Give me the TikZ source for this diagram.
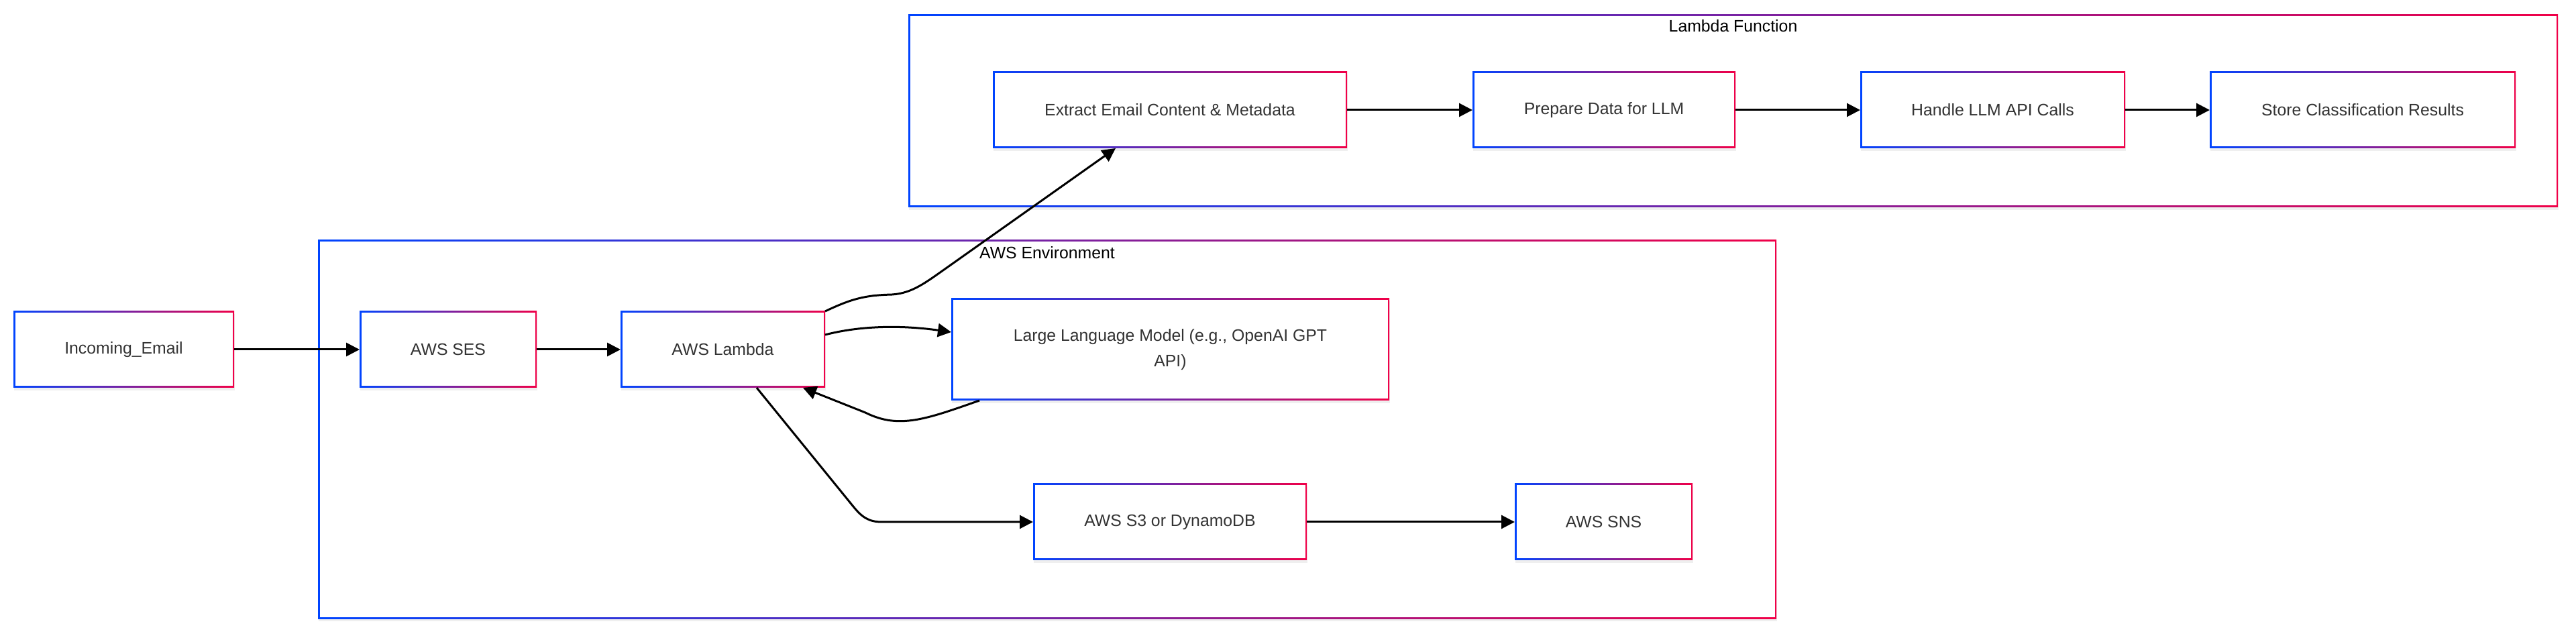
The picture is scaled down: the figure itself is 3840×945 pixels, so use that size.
\documentclass[tikz,border=0pt]{standalone}
\usepackage{fontspec}
\setmainfont{Liberation Sans}
\usetikzlibrary{arrows.meta,shadows}
\definecolor{gblue}{RGB}{0,68,255}
\definecolor{gred}{RGB}{240,0,72}
\definecolor{txt}{RGB}{51,51,51}
\tikzset{
  gbox/.style={rectangle, inner sep=0pt, outer sep=0pt, left color=gblue, right color=gred,
    drop shadow={shadow xshift=0.5pt, shadow yshift=-2pt, opacity=0.12},
    path picture={\fill[white] ([shift={(1.25pt,1.25pt)}]path picture bounding box.south west) rectangle ([shift={(-1.25pt,-1.25pt)}]path picture bounding box.north east);}},
  proc/.style={gbox, text=txt, font=\fontsize{12.4pt}{19pt}\selectfont, align=center},
  clab/.style={font=\fontsize{12.4pt}{19pt}\selectfont, text=black, inner sep=0pt},
  conn/.style={line width=1.5pt, -{Triangle[length=10pt,width=10pt]}},
}
\begin{document}
\begin{tikzpicture}[x=0.5pt,y=-0.5pt]
\fill[white] (0,0) rectangle (3840,945);
\useasboundingbox (0,0) rectangle (3840,945);
% clusters
\node[gbox, minimum width=1229.5pt, minimum height=143.5pt] (lf) at (2583.5,165.5) {};
\node[clab] (lflab) at (2583.5,39) {Lambda Function};
\node[gbox, minimum width=1087pt, minimum height=282pt] (env) at (1561,640) {};
\node[clab] (envlab) at (1561,377) {AWS Environment};
% nodes
\node[proc, minimum width=164.5pt, minimum height=57pt] (inc) at (184.5,521) {Incoming\_Email};
\node[proc, minimum width=132pt, minimum height=57pt] (ses) at (668,521) {AWS SES};
\node[proc, minimum width=152.5pt, minimum height=57pt] (lam) at (1077.5,521) {AWS Lambda};
\node[proc, minimum width=326.5pt, minimum height=76pt] (llm) at (1744.5,521) {Large Language Model (e.g., OpenAI GPT\\API)};
\node[proc, minimum width=204pt, minimum height=57pt] (s3) at (1744,778) {AWS S3 or DynamoDB};
\node[proc, minimum width=132.5pt, minimum height=57pt] (sns) at (2390.5,778) {AWS SNS};
\node[proc, minimum width=264pt, minimum height=57pt] (ext) at (1744,164) {Extract Email Content \& Metadata};
\node[proc, minimum width=196pt, minimum height=57pt] (prep) at (2391,164) {Prepare Data for LLM};
\node[proc, minimum width=197.5pt, minimum height=57pt] (hand) at (2970.5,164) {Handle LLM API Calls};
\node[proc, minimum width=228pt, minimum height=57pt] (store) at (3522,164) {Store Classification Results};
% edges
\draw[conn] (inc.east) -- (ses.west);
\draw[conn] (ses.east) -- (lam.west);
\draw[conn] (lam.north east) .. controls (1270,445) and (1290,440) .. (1330,439) .. controls (1360,437) and (1380,421) .. (1410,400) -- ([xshift=-40.5pt]ext.south);
\draw[conn] ([yshift=11pt]lam.east) .. controls (1280,486) and (1340,484) .. ([yshift=13pt]llm.west);
\draw[conn] ([xshift=21pt]llm.south west) .. controls (1380,625) and (1340,640) .. (1290,615) -- ([xshift=-16.5pt]lam.south east);
\draw[conn] ([xshift=25.25pt]lam.south) -- (1272,755) .. controls (1285,771) and (1295,778) .. (1315,778) -- (s3.west);
\draw[conn] (s3.east) -- (sns.west);
\draw[conn] (ext.east) -- (prep.west);
\draw[conn] (prep.east) -- (hand.west);
\draw[conn] (hand.east) -- (store.west);
\end{tikzpicture}
\end{document}
